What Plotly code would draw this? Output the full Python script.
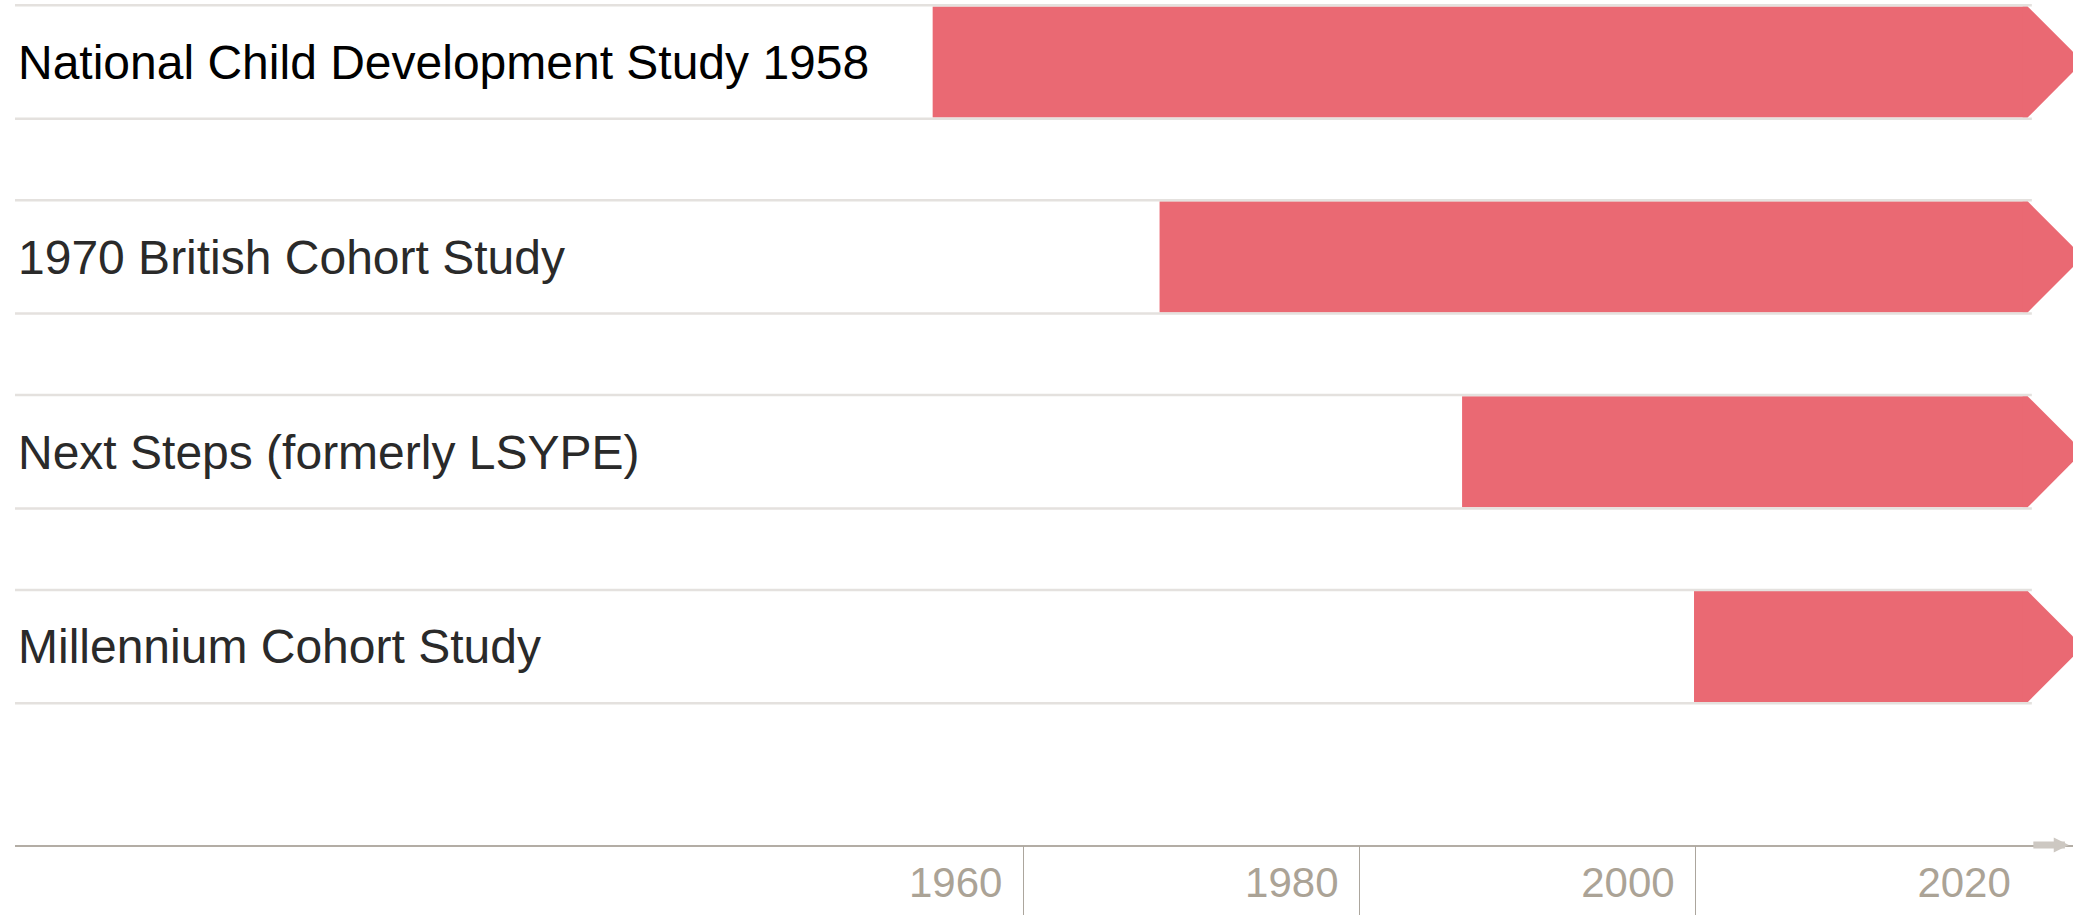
import plotly.graph_objects as go

# ---- data ----
studies = [
    "National Child Development Study 1958",
    "1970 British Cohort Study",
    "Next Steps (formerly LSYPE)",
    "Millennium Cohort Study",
]
start_years = [1954.6, 1968.1, 1986.1, 1999.9]
end_year = 2019.75
tick_line_years = [1940, 1960, 1980, 2000]
label_years = [1960, 1980, 2000, 2020]
label_text = ["1960", "1980", "2000", "2020"]
axis_start = 1900
axis_end = 2020

# ---- style ----
BAR_COLOR = "#EA6973"
GRID_COLOR = "#E4E1DE"
AXIS_COLOR = "#B3ADA5"
TICK_COLOR = "#ACA69D"
LABEL_GRAY = "#ABA396"
FONT = "Liberation Sans, Arial, sans-serif"
HALF_BAR = 0.285
HALF_GRID = 0.291
ARROW_YEARS = 3.3
OVERLAP = 0.3

rows = list(range(len(studies)))

fig = go.Figure()

# row guide lines (top & bottom of each row)
gx, gy = [], []
for r in rows:
    for off in (-HALF_GRID, HALF_GRID):
        gx += [axis_start, axis_end, None]
        gy += [r + off, r + off, None]
fig.add_trace(go.Scatter(x=gx, y=gy, mode="lines", xaxis="x2", yaxis="y",
                         line=dict(color=GRID_COLOR, width=2.5),
                         hoverinfo="skip", showlegend=False))

# bar bodies
fig.add_trace(go.Bar(
    y=rows, x=[end_year - s for s in start_years], base=start_years,
    orientation="h", width=2 * HALF_BAR,
    marker=dict(color=BAR_COLOR, line=dict(width=0)),
    hoverinfo="skip", showlegend=False))

# arrow tips
for r in rows:
    x0 = end_year - OVERLAP
    fig.add_trace(go.Scatter(
        x=[x0, end_year, end_year + ARROW_YEARS, end_year, x0, x0],
        y=[r - HALF_BAR, r - HALF_BAR, r, r + HALF_BAR, r + HALF_BAR, r - HALF_BAR],
        mode="lines", fill="toself", fillcolor=BAR_COLOR,
        line=dict(width=0, color=BAR_COLOR),
        hoverinfo="skip", showlegend=False))

ticktext_y = []
for i, s in enumerate(studies):
    if i == 0:
        ticktext_y.append('<span style="color:#000000">' + s + '</span>')
    else:
        ticktext_y.append(s)

xr = [axis_start, axis_start + (2073 - 15) / 16.807]

fig.update_layout(
    width=2073, height=915,
    margin=dict(l=15, r=0, t=0, b=70),
    paper_bgcolor="white", plot_bgcolor="white",
    font=dict(family=FONT),
    barmode="overlay",
    hovermode=False,
    xaxis=dict(
        range=xr, tickmode="array", tickvals=label_years, ticktext=label_text,
        ticks="", ticklabelposition="outside left", ticklabelshift=-20,
        tickfont=dict(size=42, color=LABEL_GRAY, family=FONT),
        showline=True, linecolor=AXIS_COLOR, linewidth=2,
        showgrid=False, zeroline=False, fixedrange=True,
    ),
    xaxis2=dict(
        range=xr, overlaying="x", anchor="y", side="bottom",
        tickmode="array", tickvals=tick_line_years,
        ticks="outside", ticklen=70, tickwidth=1.5, tickcolor=TICK_COLOR,
        showticklabels=False, showline=False, showgrid=False, zeroline=False,
        fixedrange=True,
    ),
    yaxis=dict(
        range=[4.018, -0.318], tickmode="array", tickvals=rows, ticktext=ticktext_y,
        ticks="", ticklabelposition="inside",
        tickfont=dict(size=48, color="#2A2A2A", family=FONT),
        showgrid=False, zeroline=False, showline=False, fixedrange=True,
    ),
    annotations=[dict(
        x=2022.2, y=0, xref="x", yref="paper",
        ax=axis_end, ay=0, axref="x", ayref="pixel",
        text="", showarrow=True, arrowhead=2, arrowwidth=7, arrowsize=0.43,
        arrowcolor="#CDC8C2",
    )],
)

fig.write_html(
    "out.html",
    config={"displayModeBar": False, "staticPlot": True},
    post_script="document.body.style.margin='0px';document.body.style.overflow='hidden';",
)
